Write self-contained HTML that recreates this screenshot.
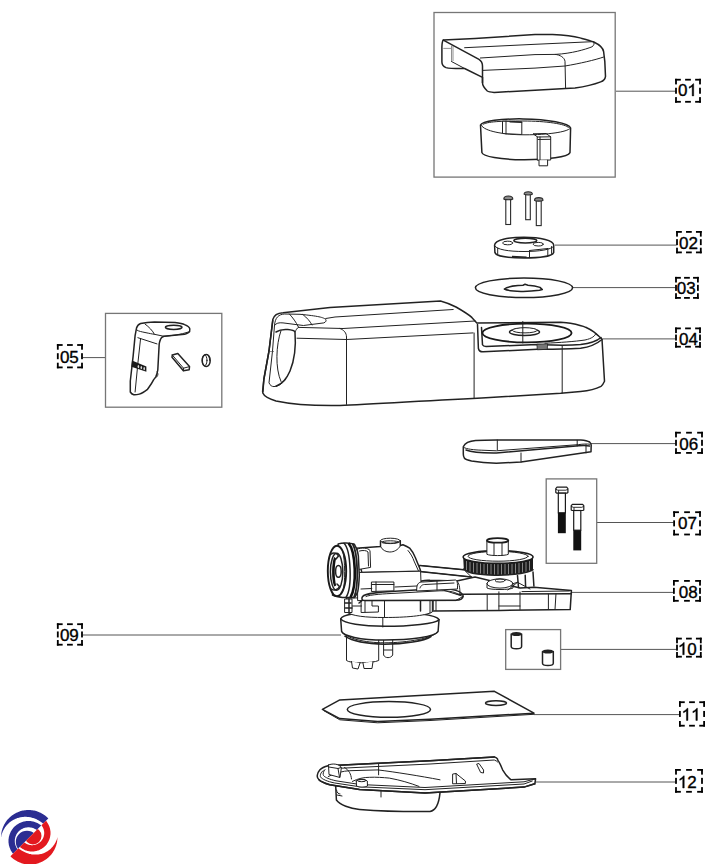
<!DOCTYPE html>
<html><head><meta charset="utf-8"><style>
html,body{margin:0;padding:0;background:#fff;}
svg{display:block;}
text{font-family:"Liberation Sans",sans-serif;font-size:17px;fill:#000;stroke:#000;stroke-width:0.35;}
.dg{fill:#000;stroke:#000;stroke-width:0.45;}
.ld{stroke:#555;stroke-width:1;}
.bx{fill:none;stroke:#767676;stroke-width:1.3;}
.k{fill:none;stroke:#222;stroke-width:1;stroke-linejoin:round;stroke-linecap:round;}
.kt{fill:none;stroke:#222;stroke-width:1.5;stroke-linejoin:round;stroke-linecap:round;}
.kf{fill:#fff;stroke:#222;stroke-width:1;stroke-linejoin:round;stroke-linecap:round;}
.kft{fill:#fff;stroke:#222;stroke-width:1.5;stroke-linejoin:round;stroke-linecap:round;}
.th{fill:none;stroke:#444;stroke-width:0.6;}
</style></head><body>
<svg width="727" height="864" viewBox="0 0 727 864">
<line x1="616" y1="91.2" x2="675.5" y2="91.2" class="ld"/><g fill="#000"><rect x="675.10" y="78.80" width="5.75" height="1.80"/><rect x="675.10" y="78.80" width="1.80" height="5.60"/><rect x="695.15" y="78.80" width="5.75" height="1.80"/><rect x="699.10" y="78.80" width="1.80" height="5.60"/><rect x="675.10" y="100.90" width="5.75" height="1.80"/><rect x="675.10" y="97.10" width="1.80" height="5.60"/><rect x="695.15" y="100.90" width="5.75" height="1.80"/><rect x="699.10" y="97.10" width="1.80" height="5.60"/><rect x="685.12" y="78.80" width="5.75" height="1.80"/><rect x="685.12" y="100.90" width="5.75" height="1.80"/><rect x="675.10" y="87.75" width="1.80" height="6.00"/><rect x="699.10" y="87.75" width="1.80" height="6.00"/></g><text x="677.90" y="95.9">0</text><path class="dg" d="M693.69,95.90 L692.19,95.90 L692.19,86.38 C691.82,86.72 691.35,87.06 690.75,87.40 C690.16,87.77 689.63,88.05 689.20,88.25 L689.20,86.82 C690.04,86.43 690.92,85.87 691.69,85.22 C692.45,84.56 693.00,84.00 693.12,83.73 L693.69,83.73 Z"/><line x1="555" y1="245.1" x2="676.5" y2="245.1" class="ld"/><g fill="#000"><rect x="676.10" y="231.00" width="5.75" height="1.80"/><rect x="676.10" y="231.00" width="1.80" height="5.60"/><rect x="695.95" y="231.00" width="5.75" height="1.80"/><rect x="699.90" y="231.00" width="1.80" height="5.60"/><rect x="676.10" y="251.50" width="5.75" height="1.80"/><rect x="676.10" y="247.70" width="1.80" height="5.60"/><rect x="695.95" y="251.50" width="5.75" height="1.80"/><rect x="699.90" y="247.70" width="1.80" height="5.60"/><rect x="686.03" y="231.00" width="5.75" height="1.80"/><rect x="686.03" y="251.50" width="5.75" height="1.80"/><rect x="676.10" y="239.15" width="1.80" height="6.00"/><rect x="699.90" y="239.15" width="1.80" height="6.00"/></g><text x="679.10" y="248.8">0</text><text x="688.55" y="248.8">2</text><line x1="573" y1="287.6" x2="675.5" y2="287.6" class="ld"/><g fill="#000"><rect x="675.10" y="276.90" width="5.75" height="1.80"/><rect x="675.10" y="276.90" width="1.80" height="5.60"/><rect x="693.05" y="276.90" width="5.75" height="1.80"/><rect x="697.00" y="276.90" width="1.80" height="5.60"/><rect x="675.10" y="297.00" width="5.75" height="1.80"/><rect x="675.10" y="293.20" width="1.80" height="5.60"/><rect x="693.05" y="297.00" width="5.75" height="1.80"/><rect x="697.00" y="293.20" width="1.80" height="5.60"/><rect x="684.08" y="276.90" width="5.75" height="1.80"/><rect x="684.08" y="297.00" width="5.75" height="1.80"/><rect x="675.10" y="284.85" width="1.80" height="6.00"/><rect x="697.00" y="284.85" width="1.80" height="6.00"/></g><text x="676.80" y="293.8">0</text><text x="686.25" y="293.8">3</text><line x1="602.5" y1="338.9" x2="675.5" y2="338.9" class="ld"/><g fill="#000"><rect x="675.10" y="327.50" width="5.75" height="1.80"/><rect x="675.10" y="327.50" width="1.80" height="5.60"/><rect x="695.15" y="327.50" width="5.75" height="1.80"/><rect x="699.10" y="327.50" width="1.80" height="5.60"/><rect x="675.10" y="345.80" width="5.75" height="1.80"/><rect x="675.10" y="342.00" width="1.80" height="5.60"/><rect x="695.15" y="345.80" width="5.75" height="1.80"/><rect x="699.10" y="342.00" width="1.80" height="5.60"/><rect x="685.12" y="327.50" width="5.75" height="1.80"/><rect x="685.12" y="345.80" width="5.75" height="1.80"/><rect x="675.10" y="334.55" width="1.80" height="6.00"/><rect x="699.10" y="334.55" width="1.80" height="6.00"/></g><text x="679.10" y="344.7">0</text><text x="688.55" y="344.7">4</text><line x1="82.5" y1="357.6" x2="105.3" y2="357.6" class="ld"/><g fill="#000"><rect x="56.90" y="344.10" width="5.75" height="1.80"/><rect x="56.90" y="344.10" width="1.80" height="5.60"/><rect x="77.15" y="344.10" width="5.75" height="1.80"/><rect x="81.10" y="344.10" width="1.80" height="5.60"/><rect x="56.90" y="366.50" width="5.75" height="1.80"/><rect x="56.90" y="362.70" width="1.80" height="5.60"/><rect x="77.15" y="366.50" width="5.75" height="1.80"/><rect x="81.10" y="362.70" width="1.80" height="5.60"/><rect x="67.03" y="344.10" width="5.75" height="1.80"/><rect x="67.03" y="366.50" width="5.75" height="1.80"/><rect x="56.90" y="353.20" width="1.80" height="6.00"/><rect x="81.10" y="353.20" width="1.80" height="6.00"/></g><text x="59.90" y="363">0</text><text x="69.35" y="363">5</text><line x1="591" y1="443.6" x2="675.5" y2="443.6" class="ld"/><g fill="#000"><rect x="675.10" y="431.80" width="5.75" height="1.80"/><rect x="675.10" y="431.80" width="1.80" height="5.60"/><rect x="697.15" y="431.80" width="5.75" height="1.80"/><rect x="701.10" y="431.80" width="1.80" height="5.60"/><rect x="675.10" y="452.00" width="5.75" height="1.80"/><rect x="675.10" y="448.20" width="1.80" height="5.60"/><rect x="697.15" y="452.00" width="5.75" height="1.80"/><rect x="701.10" y="448.20" width="1.80" height="5.60"/><rect x="686.12" y="431.80" width="5.75" height="1.80"/><rect x="686.12" y="452.00" width="5.75" height="1.80"/><rect x="675.10" y="439.80" width="1.80" height="6.00"/><rect x="701.10" y="439.80" width="1.80" height="6.00"/></g><text x="679.30" y="449.7">0</text><text x="688.75" y="449.7">6</text><line x1="597" y1="522.5" x2="673.5" y2="522.5" class="ld"/><g fill="#000"><rect x="673.20" y="511.30" width="5.75" height="1.80"/><rect x="673.20" y="511.30" width="1.80" height="5.60"/><rect x="695.15" y="511.30" width="5.75" height="1.80"/><rect x="699.10" y="511.30" width="1.80" height="5.60"/><rect x="673.20" y="533.60" width="5.75" height="1.80"/><rect x="673.20" y="529.80" width="1.80" height="5.60"/><rect x="695.15" y="533.60" width="5.75" height="1.80"/><rect x="699.10" y="529.80" width="1.80" height="5.60"/><rect x="684.17" y="511.30" width="5.75" height="1.80"/><rect x="684.17" y="533.60" width="5.75" height="1.80"/><rect x="673.20" y="520.35" width="1.80" height="6.00"/><rect x="699.10" y="520.35" width="1.80" height="6.00"/></g><text x="678.10" y="528.8">0</text><text x="687.55" y="528.8">7</text><line x1="569" y1="592.4" x2="673.5" y2="592.4" class="ld"/><g fill="#000"><rect x="673.00" y="580.00" width="5.75" height="1.80"/><rect x="673.00" y="580.00" width="1.80" height="5.60"/><rect x="695.15" y="580.00" width="5.75" height="1.80"/><rect x="699.10" y="580.00" width="1.80" height="5.60"/><rect x="673.00" y="599.90" width="5.75" height="1.80"/><rect x="673.00" y="596.10" width="1.80" height="5.60"/><rect x="695.15" y="599.90" width="5.75" height="1.80"/><rect x="699.10" y="596.10" width="1.80" height="5.60"/><rect x="684.08" y="580.00" width="5.75" height="1.80"/><rect x="684.08" y="599.90" width="5.75" height="1.80"/><rect x="673.00" y="587.85" width="1.80" height="6.00"/><rect x="699.10" y="587.85" width="1.80" height="6.00"/></g><text x="678.70" y="598">0</text><text x="688.15" y="598">8</text><line x1="82.5" y1="635" x2="341" y2="635" class="ld"/><g fill="#000"><rect x="56.90" y="623.30" width="5.75" height="1.80"/><rect x="56.90" y="623.30" width="1.80" height="5.60"/><rect x="77.15" y="623.30" width="5.75" height="1.80"/><rect x="81.10" y="623.30" width="1.80" height="5.60"/><rect x="56.90" y="643.80" width="5.75" height="1.80"/><rect x="56.90" y="640.00" width="1.80" height="5.60"/><rect x="77.15" y="643.80" width="5.75" height="1.80"/><rect x="81.10" y="640.00" width="1.80" height="5.60"/><rect x="67.03" y="623.30" width="5.75" height="1.80"/><rect x="67.03" y="643.80" width="5.75" height="1.80"/><rect x="56.90" y="631.45" width="1.80" height="6.00"/><rect x="81.10" y="631.45" width="1.80" height="6.00"/></g><text x="59.90" y="640.9">0</text><text x="69.35" y="640.9">9</text><line x1="561" y1="649.4" x2="676.5" y2="649.4" class="ld"/><g fill="#000"><rect x="676.10" y="637.70" width="5.75" height="1.80"/><rect x="676.10" y="637.70" width="1.80" height="5.60"/><rect x="695.95" y="637.70" width="5.75" height="1.80"/><rect x="699.90" y="637.70" width="1.80" height="5.60"/><rect x="676.10" y="655.80" width="5.75" height="1.80"/><rect x="676.10" y="652.00" width="1.80" height="5.60"/><rect x="695.95" y="655.80" width="5.75" height="1.80"/><rect x="699.90" y="652.00" width="1.80" height="5.60"/><rect x="686.03" y="637.70" width="5.75" height="1.80"/><rect x="686.03" y="655.80" width="5.75" height="1.80"/><rect x="676.10" y="644.65" width="1.80" height="6.00"/><rect x="699.90" y="644.65" width="1.80" height="6.00"/></g><path class="dg" d="M684.23,654.70 L682.74,654.70 L682.74,645.18 C682.37,645.52 681.89,645.86 681.30,646.20 C680.70,646.57 680.18,646.85 679.75,647.05 L679.75,645.62 C680.59,645.23 681.47,644.67 682.24,644.02 C683.00,643.36 683.54,642.80 683.66,642.53 L684.23,642.53 Z"/><text x="687.35" y="654.7">0</text><line x1="534" y1="714.6" x2="679.5" y2="714.6" class="ld"/><g fill="#000"><rect x="679.00" y="701.30" width="5.75" height="1.80"/><rect x="679.00" y="701.30" width="1.80" height="5.60"/><rect x="699.25" y="701.30" width="5.75" height="1.80"/><rect x="703.20" y="701.30" width="1.80" height="5.60"/><rect x="679.00" y="724.80" width="5.75" height="1.80"/><rect x="679.00" y="721.00" width="1.80" height="5.60"/><rect x="699.25" y="724.80" width="5.75" height="1.80"/><rect x="703.20" y="721.00" width="1.80" height="5.60"/><rect x="689.12" y="701.30" width="5.75" height="1.80"/><rect x="689.12" y="724.80" width="5.75" height="1.80"/><rect x="679.00" y="710.95" width="1.80" height="6.00"/><rect x="703.20" y="710.95" width="1.80" height="6.00"/></g><path class="dg" d="M687.93,720.40 L686.44,720.40 L686.44,710.88 C686.07,711.22 685.60,711.56 685.00,711.90 C684.40,712.27 683.88,712.55 683.45,712.75 L683.45,711.32 C684.29,710.93 685.17,710.37 685.94,709.72 C686.70,709.06 687.24,708.50 687.36,708.23 L687.93,708.23 Z"/><path class="dg" d="M697.39,720.40 L695.89,720.40 L695.89,710.88 C695.52,711.22 695.05,711.56 694.45,711.90 C693.86,712.27 693.33,712.55 692.90,712.75 L692.90,711.32 C693.74,710.93 694.62,710.37 695.39,709.72 C696.15,709.06 696.70,708.50 696.82,708.23 L697.39,708.23 Z"/><line x1="535" y1="782" x2="675.5" y2="782" class="ld"/><g fill="#000"><rect x="675.10" y="769.00" width="5.75" height="1.80"/><rect x="675.10" y="769.00" width="1.80" height="5.60"/><rect x="697.15" y="769.00" width="5.75" height="1.80"/><rect x="701.10" y="769.00" width="1.80" height="5.60"/><rect x="675.10" y="790.90" width="5.75" height="1.80"/><rect x="675.10" y="787.10" width="1.80" height="5.60"/><rect x="697.15" y="790.90" width="5.75" height="1.80"/><rect x="701.10" y="787.10" width="1.80" height="5.60"/><rect x="686.12" y="769.00" width="5.75" height="1.80"/><rect x="686.12" y="790.90" width="5.75" height="1.80"/><rect x="675.10" y="777.85" width="1.80" height="6.00"/><rect x="701.10" y="777.85" width="1.80" height="6.00"/></g><path class="dg" d="M684.23,788.00 L682.74,788.00 L682.74,778.48 C682.37,778.82 681.89,779.16 681.30,779.50 C680.70,779.87 680.18,780.15 679.75,780.35 L679.75,778.92 C680.59,778.53 681.47,777.97 682.24,777.32 C683.00,776.66 683.54,776.10 683.66,775.83 L684.23,775.83 Z"/><text x="687.35" y="788">2</text>
<!-- boxes -->
<rect class="bx" x="434" y="12.5" width="181.2" height="164.6"/>
<rect class="bx" x="105.5" y="313.4" width="116.3" height="93.8"/>
<rect class="bx" x="546.2" y="478.9" width="50.5" height="84.4"/>
<rect class="bx" x="505.7" y="629.6" width="54.9" height="39.8"/>
<!-- 03 disc -->
<g id="p03">
<ellipse class="kt" cx="524" cy="287.8" rx="48.6" ry="9.8"/>
<path class="kt" d="M504.3,289 C507,287 512,286 518,285.6 L523,285.2 L525,284.3 L528,285.2 C533,285.5 537,286.3 540,287.4 L542.3,289.6 L539.5,290.3 C533,291.2 527,291.5 521,291.4 C513,291.2 507,290.4 504.3,289 Z"/>
</g>
<!-- 11 plate -->
<g id="p11">
<path class="kt" d="M322.4,709.4 L339.8,699.9 L494.4,691.3 L534,713.2 L430,719.3 L377.7,721.6 L339.8,718.6 Z"/>
<path class="k" d="M324,710.8 L339.8,719.8 L377.7,722.8 L430,720.5 L534,714.3"/>
<ellipse class="kt" cx="388.9" cy="709.4" rx="41.6" ry="7.8"/>
<ellipse class="kt" cx="496" cy="703.1" rx="10.5" ry="2.4"/>
</g>
<!-- 10 cylinders -->
<g id="p10">
<path class="kft" d="M511.2,634 L511.2,646.5 C511.2,649.5 521.6,649.5 521.6,646.5 L521.6,634"/>
<ellipse cx="516.4" cy="634" rx="5.2" ry="2" fill="#222"/>
<path class="kft" d="M542.5,651.5 L542.5,663.3 C542.5,666.3 553.3,666.3 553.3,663.3 L553.3,651.5"/>
<ellipse cx="547.9" cy="651.5" rx="5.4" ry="2.1" fill="#222"/>
</g>
<!-- 07 bolts -->
<g id="p07">
<path d="M555.8,488.59999999999997 L557.0,487.2 L566.6999999999999,487.2 L567.9,488.59999999999997 L567.9,492.59999999999997 L566.9,493.2 L556.8,493.2 L555.8,492.59999999999997 Z" fill="#fff" stroke="#1a1a1a" stroke-width="1.2" stroke-linejoin="round"/>
<path d="M555.8,489.2 L557.8,490.2 L565.9,490.2 L567.9,489.2 M558.5999999999999,490.2 V493.2" fill="none" stroke="#1a1a1a" stroke-width="0.9"/>
<rect x="558.3" y="493.2" width="7.100000000000023" height="19.599999999999966" fill="#fff" stroke="#1a1a1a" stroke-width="1.2"/>
<rect x="557.9" y="512.8" width="7.900000000000023" height="20.40000000000009" fill="#111"/>
<path d="M571.2,505.7 L572.4000000000001,504.3 L582.5999999999999,504.3 L583.8,505.7 L583.8,509.9 L582.8,510.5 L572.2,510.5 L571.2,509.9 Z" fill="#fff" stroke="#1a1a1a" stroke-width="1.2" stroke-linejoin="round"/>
<path d="M571.2,506.3 L573.2,507.3 L581.8,507.3 L583.8,506.3 M574.0,507.3 V510.5" fill="none" stroke="#1a1a1a" stroke-width="0.9"/>
<rect x="573.7" y="510.5" width="7.099999999999909" height="19.700000000000045" fill="#fff" stroke="#1a1a1a" stroke-width="1.2"/>
<rect x="573.3000000000001" y="530.2" width="7.899999999999909" height="20.199999999999932" fill="#111"/>
</g>


<!-- screws above 02 -->
<g id="screws">
<rect x="505.8" y="199.1" width="4.800000000000011" height="25.400000000000006" fill="#fff" stroke="#2a2a2a" stroke-width="1.1"/>
<path d="M503.8,199.0 C503.8,195.0 512.8,195.0 512.8,199.0 C511.79999999999995,200.0 504.8,200.0 503.8,199.0 Z" fill="#8c8c8c" stroke="#2a2a2a" stroke-width="1.1"/>
<rect x="525.7" y="194.3" width="4.599999999999909" height="25.399999999999977" fill="#fff" stroke="#2a2a2a" stroke-width="1.1"/>
<path d="M524.1,194.20000000000002 C524.1,190.89999999999998 532.4,190.89999999999998 532.4,194.20000000000002 C531.4,195.20000000000002 525.1,195.20000000000002 524.1,194.20000000000002 Z" fill="#8c8c8c" stroke="#2a2a2a" stroke-width="1.1"/>
<rect x="536.3" y="200.5" width="4.900000000000091" height="25.099999999999994" fill="#fff" stroke="#2a2a2a" stroke-width="1.1"/>
<path d="M534.5,200.4 C534.5,196.7 543,196.7 543,200.4 C542,201.4 535.5,201.4 534.5,200.4 Z" fill="#8c8c8c" stroke="#2a2a2a" stroke-width="1.1"/>
</g>
<!-- 01 cover -->
<g id="p01">
<path class="kft" d="M443.3,40.1 L475,38.5 L535,34.6 L552.5,34.4 C565,35 575,36.5 580,37.9 C586,39.5 590,40.5 593.8,42 C599,44.5 603,48 603.6,51.5 L604.8,61.3 L605.5,76.4 C605,80 602.5,81.3 600.7,81.9 C594,84.5 586,86.5 575,88 L565.6,88.6 L535,90.2 L494.1,92.4 C490,92.2 488,91.5 487.3,91 C483,87 482.5,84 482.5,82.8 L482.5,77.3 L464.6,68.5 C455,68.6 449,68.4 446,67.6 C443,66.5 441.9,64 441.9,62.1 L441.9,47 C442,43 442.5,41 443.3,40.1 Z"/>
<path class="kt" d="M443.3,40.1 L479,59.4 C481.5,61 482.5,64 482.5,66.3 L482.5,82.8"/>
<path class="k" d="M464.6,47.7 L535,44.3 L592.4,41.7"/>
<path class="k" d="M480.4,58 L535,54.6 L555.3,54.4 C572,53.5 585,49.5 592,46.8 C594,45.5 594.5,43.5 593.8,42"/>
<path class="k" d="M482.5,70.4 L535,68.1 L565,66 C580,63.5 595,60 603.4,57.1"/>
<path class="k" d="M555.3,54.4 C560,54.8 564.5,57.5 565,61.3 L565.6,88"/>
<path class="k" d="M451.5,61.5 L464.6,68.5"/>
<path class="th" d="M451.5,45.6 V62 M443.3,48.4 H451 M453,46 V61"/>
</g>
<!-- 01 ring -->
<g id="p01r">
<path class="kft" d="M480.5,125.1 C482,121 502,118.6 523.1,118.9 C548,119.2 569,123 570.6,127.9 L570,152.6 C568,157 548,159.8 523.1,159.7 C500,159.5 483,156.5 481.9,152.6 Z"/>
<path class="k" d="M481.5,125.5 C484,131 503,134.8 525,134.8 C548,134.8 567,132 570,128.5"/>
<path class="k" d="M483,124.5 C486,121.5 502,121 523,121 C546,121 566,124 568.5,127.5"/>
<path class="kf" d="M502.5,121.5 L502.5,133.5 L521.8,134.5 L521.8,122.2 Z"/>
<path class="k" d="M506,121 V134 M510,122 L521.8,122.5"/>
<path class="kf" d="M537.6,137 L550.7,136.8 L550.7,160 L537.6,160.2 Z"/>
<path class="k" d="M540,137 V160 M538,139.5 L550.5,139.3 M537.6,137 L533,133.8 L546,133.5 L550.7,136.8"/>
<path class="kf" d="M539,160.2 L539,165.8 L547.6,165.8 L547.6,160.2"/>

</g>
<!-- 02 ring -->
<g id="p02">
<path class="kft" d="M494.6,245 C495,240 508,237.2 524,237.2 C541,237.2 553.5,240.5 553.7,245 L553.7,252.5 C553,256 540,258 524,258 C508,258 495.5,256 494.9,252.5 Z"/>
<path class="k" d="M494.8,246 C497,249.5 508,251.5 524,251.5 C540,251.5 551,249.5 553.5,246.5"/>
<ellipse class="kt" cx="525.3" cy="240.6" rx="11.5" ry="2.4"/>
<ellipse class="k" cx="507.6" cy="243" rx="5" ry="1.8"/>
<ellipse class="k" cx="538.2" cy="244.2" rx="5" ry="1.8"/>
<path class="k" d="M497.7,248 V254.5 M529.5,250.5 V257.6 M547.8,248.5 V255.5 M551.6,246.5 V253.5 M529.5,250.5 L547.8,248.5"/>
<path d="M512,255.8 L526.6,256.4 L526.6,258 L512,257.5 Z" fill="#222"/>
</g>
<!-- 04 body -->
<g id="p04">
<path class="kft" d="M272.8,319.5 C274,315 278,313 283,312.7 L330,307.6 L440.5,301 C448,303 452,305 456,307 C463,311 468,314 471.8,317.4 L476.8,323 L508,322.7 L560.7,322.2 C565,322.5 568,322.8 570.4,323.2 C577,324.5 582,325.5 585.7,327.3 C589,328.8 591.5,330.3 593.8,331.9 C596,333.5 597,334.5 597.9,335.4 C599.5,336.8 601,338 602,339.2 L604.5,381.3 C603.5,383.5 602.5,385.5 601,386.4 C595,389.5 588,390.8 580.6,391.5 L560.7,393.2 L490,397.5 C420,401 370,404.5 340,405.5 C310,406 290,404 276,401 C268,398.5 264,396 262.8,393 L263.9,379 L269,351 Z"/>
<path class="k" d="M325.7,318.5 L335,317 L453.2,309.5"/>
<path class="k" d="M298.3,327.4 L343,328.5 L475.2,321"/>
<path class="k" d="M297,338.2 L346.5,339.5 L473,332.9"/>
<path class="k" d="M340,328.5 C344,330 346.5,333 346.5,337 L346.5,404.4"/>
<path class="k" d="M474.1,333 L474.1,397.8"/>
<path class="k" d="M562.2,345.5 L562.2,393"/>
<!-- deck channel -->
<path class="kt" d="M477.5,324.5 L478.4,348.5 C479,351 480.5,352 483.2,351.8 L537.7,349.3 C550,349.5 560,349.4 580.6,348.2 C590,347 596,344.6 602,339.5"/>
<path class="kt" d="M481.5,327.5 L482.5,344.8 C483,346 484,346.5 486,346.5 L537,344.6 C550,345 565,345.8 580.6,344.6 C590,343.5 597,341 601,337.5"/>
<path class="k" d="M545,343.2 C560,342.6 575,341.5 585,340 C592,338.5 595,336 595.9,333.5"/>
<ellipse cx="527" cy="333" rx="44.6" ry="9.4" fill="#fff" stroke="#1a1a1a" stroke-width="1.8"/>
<ellipse class="kt" cx="524.5" cy="332" rx="15" ry="3.6"/>
<ellipse class="kf" cx="525" cy="330.3" rx="12.5" ry="2.6"/>
<path class="k" d="M522.8,321.5 V343"/>
<path d="M536.9,344.2 L547.6,343.8 L547.3,349.3 L537.3,349.8 Z" fill="#777" stroke="#222" stroke-width="0.8"/>
<!-- left end -->
<path class="kt" d="M272.8,320.4 L269,351 L263.9,379 L262.6,391.7"/>
<path class="k" d="M274.5,325.5 L272.5,351 L269,382.8 C270,385.5 272,386.6 274,386.6 C279,386 283,383 286,379"/>
<path class="kt" d="M276,332 C283,327.5 294,330 295,332 C296,345 294.5,360 290,371 C287,378 282,384 276,386.2"/>
<path class="k" d="M281,330.6 C276,345 275,368 281,381.5"/>
<path class="k" d="M274.5,325.5 C276,323 279,322.5 283,322.9 L303.4,325.5 L323.8,322.9 C326,322 326.5,320.5 325.7,319.5 C324,317.5 318,316 300,314.3 L284.3,314 C279,314.5 275,317 274.5,325.5"/>
<path class="k" d="M289.4,314 C293,318 296,322 298.3,326.8 M303,314.6 C307,318 310,321 312,325"/>
<path class="k" d="M295,332 C296,330 297,328 298.3,327.4"/>
<path class="th" d="M269.5,351.5 L274,351.5"/>
</g>
<!-- 05 hook -->
<g id="p05">
<path class="kft" d="M136.5,328.1 C137.5,325 139,324 140.6,323.5 C146,322.2 150,321.9 154.4,321.9 L175,322.6 C180,323.2 183,323.8 184.6,324.6 C187.5,325.8 189.5,327 189.8,328.8 C190,331 189.5,332 188.8,332.4 C187,333.6 186,334 184.6,334.3 L164,336.3 C162,337 161,338 160.6,339.1 C159.8,341 159.4,342.5 159.2,343.9 L157.8,370 C157.3,373 156.6,375 155.8,376.9 L153.7,379.6 C151.5,384 149.5,386.5 147.5,389.3 C144,392 142,393.3 139.3,394.1 C136.5,394.9 135,394.9 133.8,394.8 C132,394.2 131,393.2 130.3,392 L130.3,381 L133.1,356.3 L135.1,335.6 Z"/>
<ellipse class="kt" cx="173.7" cy="327.3" rx="8.3" ry="2.1"/>
<path class="k" d="M136.8,330 C139,331.5 142,331.8 145,332.5 C150,333.5 152,334 154.4,334.3 L164,336.3"/>
<path class="k" d="M137.9,337.7 L157,343.9"/>
<path class="k" d="M140.6,338.4 L138,362 L135.1,392"/>
<path class="k" d="M145,324 C149,327 153,331 154.4,334.3"/>
<path class="k" d="M164,336.3 C172,335.6 180,334.8 188.5,332"/>
<path d="M132,360.4 L146.4,366.6 L146.4,371.8 L131.4,366.8 Z" fill="#1a1a1a"/>
<ellipse cx="144.2" cy="368.6" rx="0.8" ry="1.6" fill="#ddd"/>
<ellipse cx="141.3" cy="367.6" rx="0.8" ry="1.6" fill="#ddd"/>
<ellipse cx="138.4" cy="366.6" rx="0.8" ry="1.6" fill="#ddd"/>
<path class="k" d="M157,372 C158.5,373.5 158.3,376 156,377.5"/>
<!-- small rect -->
<path class="kft" d="M172.3,355 L177.8,353.6 L189.5,366.6 L189.2,369.8 L183.4,370.8 L172,357.2 Z"/>
<path class="k" d="M172.3,355 L183.5,368.2 L189.5,366.6 M183.5,368.2 L183.4,370.8"/>
<!-- ring -->
<ellipse class="kft" cx="206.2" cy="360.5" rx="4" ry="6.1"/>
<ellipse class="k" cx="204.6" cy="360.3" rx="2.4" ry="5.4"/>
<path class="k" d="M207.5,354.4 C209,356 209.6,358 209.6,360.4"/>
</g>
<!-- 06 belt -->
<g id="p06">
<path class="kft" d="M463.3,446.7 C465,443 470,441 475.6,440.5 C482,440 490,439.9 496.3,439.9 L580.8,439.9 C585,440.2 588,441 589.6,442 C590.8,443 591.2,444 591.2,445 L591,451.8 L521,462.1 L496.3,463.2 C485,463 477,462 471.5,461.1 C467,460 465,459 464.3,458 C463.5,456.5 463.3,455 463.3,453.9 Z"/>
<path class="k" d="M464,447.5 C466,449 474,450 481.8,450.2 L496.3,450.8 L578.8,444.6 C583,444 587,443.8 590,444.2"/>
<path class="kt" d="M466,450 C472,452.5 485,453 496.3,452.9 L578.8,445.8 C583,445.5 587,445.5 589.5,446"/>
<path class="k" d="M497.3,440 V449.8 M521,453 V462 M586,444.6 V452.9 M577.2,440.3 V446"/>
</g>
<!-- 08 plate + gear -->
<g id="p08">
<path class="kft" d="M417,583.4 C420,581 425,580 430,580.3 L456.8,581 L475,577 L520,588 L534,587.3 L571.4,590.4 L570.2,609.6 L500,610.4 L433.4,611 L419,610 Z"/>
<path class="kt" d="M419.4,594.5 L571.4,593.8"/>
<path class="k" d="M498.9,591.8 V609.5 M520,592 V609.5 M548.4,594 V609.5 M556,593.5 L555,609.5 M487.2,594.5 V610 M456.8,581 C459,583 460,586 460,595 M436,596 V610.5"/>
<path class="k" d="M498.9,606 H520 M522,591.6 L569.3,591"/>
<path class="kt" d="M517.5,575.5 L518.5,587.5 M525.2,575.3 L525.6,586.5 M533,572 L533.9,586"/>
<path class="k" d="M517.5,582.3 L530,589 M507.9,590 L517.5,582.3 M505,586 L517.5,582.3"/>
<ellipse class="kf" cx="500" cy="583.5" rx="13" ry="4.6"/>
<path class="k" d="M487,583.5 V588 C490,590 510,590 513,588 V583.5"/>
<ellipse class="k" cx="500" cy="580.5" rx="5" ry="1.6"/>
<!-- gear -->
<path d="M463.2,557.5 L463.8,569 C468,574 485,575.5 498,575.2 C515,575 530,572.5 533,569.7 L533,556.5 Z" fill="#1c1c1c"/>
<g stroke="#9a9a9a" stroke-width="0.85">
<path d="M466.5,561 V570.5 M470,562 V572 M473.5,562.5 V572.8 M477,563 V573.5 M480.5,563.3 V574 M484,563.6 V574.3 M487.5,563.8 V574.6 M491,564 V574.8 M494.5,564 V575 M498,564 V575 M501.5,564 V575 M505,564 V574.9 M508.5,563.8 V574.7 M512,563.6 V574.4 M515.5,563.3 V574 M519,563 V573.5 M522.5,562.5 V572.8 M526,562 V572 M529.5,561 V570.8"/>
</g>
<path class="kt" d="M463.8,569 C468,574 485,575.5 498,575.2 C515,575 530,572.5 533,569.7"/>
<ellipse cx="498.1" cy="557" rx="35" ry="6.4" fill="#fff" stroke="#1c1c1c" stroke-width="1.6"/>
<ellipse class="k" cx="498.1" cy="556.3" rx="30" ry="4.9"/>
<!-- shaft -->
<path class="kf" d="M486.9,541 V554.3 C490,556 505,556 508.3,554.3 V541 Z"/>
<ellipse cx="497.6" cy="540.4" rx="10.7" ry="2.3" fill="#fff" stroke="#1c1c1c" stroke-width="1.8"/>
<path class="k" d="M494,542.5 V555.5 M502,542.5 V555.5"/>
<!-- strap -->
<path class="kf" d="M419.8,565.4 L464,569.8 L471.5,577 L419.8,571.5 Z"/>
<path class="kt" d="M419.8,565.4 L464,569.8 M419.8,571.5 L471.5,577"/>
</g>
<!-- 09 base -->
<g id="p09">
<!-- motor can -->
<path class="kf" d="M346.5,635 L346.5,660.5 C350,663.5 372,663.5 378.7,660.5 L378.7,635"/>
<path class="kf" d="M383.6,640 L383.6,655 C385,658.5 391,658.5 392.7,655 L392.7,640"/>
<path class="k" d="M384,650 H392.3"/>
<path class="kf" d="M351.5,661.5 L352.5,668 L358,669 L360,663 M363,663 L364,668.5 L372,668.5 L373,661.5"/>
<!-- ring -->
<path class="kft" d="M340.7,618.9 C342,614.5 360,612 384.5,612 C412,612 437,615 439,619.7 L438.1,631.3 C436,637 410,640 384.5,640 C360,640 343,636 341.6,631.3 Z"/>
<path class="kt" d="M340.7,618.9 C344,623.5 362,626.3 384.5,626.3 C410,626.3 436,623.5 439,619.7"/>
<path class="k" d="M382.8,616.4 V627"/>
<path class="k" d="M341.8,632 C346,638 364,642.8 384.5,642.8 C408,642.8 433,638 437.5,632"/>
<path class="kt" d="M344.9,636.2 C352,641 368,644 384.5,644.2 C405,644.2 424,641 431,636.5"/>
<!-- gearbox cylinder -->
<path class="kf" d="M346.5,598.5 L346.5,612 C352,616 365,617.5 384.5,617.5 C405,617.5 425,616 432.3,612 L432.3,597 Z"/>
<path class="k" d="M384.5,598 V617.5 M350,603 V613 M430,600 V613"/>
<path class="kf" d="M361.5,600 L372,600 L372,606 L378.4,606 L378.4,612 L361.5,612.5 Z"/>
<path class="k" d="M365,600 V612 M352,606 L361.5,606"/>
<path class="kf" d="M345,599 L352,599 L352,612.5 L345,612.5 Z"/>
<path class="kt" d="M345,603 H351 M345.5,608 H352 M349,599 V612"/>
<path class="kt" d="M420.5,599 V611 M433,598 V610"/>
</g>
<!-- motor housing -->
<g id="p09m">
<path class="kft" d="M356,548.2 L380.5,546.5 L380.5,541 L400.3,541 L400.3,545.5 L403,544.8 C406,546 408,547 409.6,548.1 C412,551 414,554 415.1,557 L420,569 L420.6,571.2 L361.8,572.4 Z"/>
<path class="k" d="M380.5,546.5 C382,550 386,552 389.8,552 C394,552 398,550 400.3,545.9"/>
<path class="k" d="M408,550.5 C411,554 413,558 414,561 L418.5,571"/>
<ellipse class="kf" cx="390.4" cy="540.7" rx="9.9" ry="2.5"/>
<ellipse class="k" cx="390.4" cy="542.2" rx="8.5" ry="1.4"/>
<path class="kf" d="M357.4,549 C362,547.5 368,547.8 370,550.5 L370.6,567.4 L358,569.6 Z"/>
<path class="k" d="M359.5,551 C363,550 367,550.5 368,552 L368.5,566"/>
<!-- platform left -->
<path class="kf" d="M358,572.5 L420.6,571.2 L421,583 L463.2,596.4 L455.5,600.6 L358,600.6 Z"/>
<path class="kt" d="M362,598 C362,594 372,592.5 395,591.2 L440,588.6 C452,588 462.5,591.5 463.2,596 C463,599 459,600.3 455.5,600.3 L365,600.5 C362.5,600.3 361.5,599.5 362,598 Z"/>
<path class="k" d="M366,596.5 C370,594.5 385,593.8 395,593.3 L440,590.8 C450,590.5 457,592.5 459,595"/>
<path class="kf" d="M371.8,582 L393.9,582 L393.9,590.8 L371.8,591.5 Z"/>
<path class="k" d="M371.8,584.5 L393.9,584.5 M376,582 V591.3"/>
<path class="kf" d="M417,586 C418,582.5 420,582 422.8,582 L455.5,580 C457,580.5 457.5,582 457.5,585.8 L457.5,589 L417,591 Z"/>
<path class="k" d="M420,588 C421,585 423,584.5 425,584.5 L454,583 M437,581 V590"/>
<path class="k" d="M361,589 L371.8,588.5 M395,587 L417,586"/>
<path class="kt" d="M359,603 L362,600.5"/>
</g>
<!-- pulley -->
<g id="pulley">
<path class="kft" d="M338.2,543.9 C342,542.6 350,542.5 354.4,544.3 L355.2,545.9 C357.5,550 358.5,555 358.5,559.3 L359.3,575.5 C359,583 358.5,588 357.7,591.7 C356.5,594.5 355.5,596.5 354.4,597.4 L342.3,597.4 C338,596.8 334.5,596 332.5,595 Z"/>
<path class="kt" d="M344,543.3 C351,550 352.5,588 346,597.4"/>
<path d="M348.5,543 C356,552 357,586 350.5,597.4" fill="none" stroke="#111" stroke-width="2.6"/>
<path d="M352.5,543.5 C358,553 359,586 354,597.4" fill="none" stroke="#222" stroke-width="1.8"/>
<ellipse cx="337" cy="571" rx="9.2" ry="25.3" fill="#fff" stroke="#1a1a1a" stroke-width="1.9"/>
<path class="k" d="M343,552 C345,560 345.5,583 343,591"/>
<ellipse class="kt" cx="336.6" cy="571.8" rx="6.2" ry="18.5"/>
<path d="M334.2,557 C331.5,563 331.3,580 334.2,586.5 L336.2,585.5 C334.3,579 334.3,564 336.2,558.5 Z" fill="#111"/>
<ellipse class="kt" cx="338.4" cy="571.4" rx="2.8" ry="5.8"/>
<path class="kt" d="M331.5,554 C333.5,552 337,553 338.5,556 L336,559 M331.5,589 C334,591 338,590 339.5,586.5 L337,584"/>
</g>
<!-- 12 tray -->
<g id="p12">
<!-- bowl -->
<path class="kft" d="M335.6,783.8 L336.4,800 C340,805 350,808.5 359.5,809.4 C380,811 405,811.8 430,811.5 C436,810.5 439,803 440,792.9 L440,788 L335.6,783.8 Z"/>
<path class="k" d="M336.5,790 C337,793 338.5,794 340,794 M337,795 L342,796"/>
<path class="k" d="M381,791 V797"/>
<!-- tray top surface -->
<path class="kft" d="M328.2,765.7 L430,760.7 L494.3,756.9 C497,758 498,759 497.6,759.9 C500,763 501,766 502.6,769.8 C505,774 508,777.5 510.8,779.7 L535.6,778.8 L534.8,783.8 L524,787.1 L425,792.9 L359.5,789.6 L329.8,784.7 C324,783 320.5,781.5 319,779.7 C317,778 317,776.5 317.4,774.8 C318,772 319,771 320,769.8 C322,767.5 325,766.5 328.2,765.7 Z"/>
<path class="kt" d="M328.2,765.7 L430,760.7 L494.3,756.9"/>
<path class="kt" d="M319,779.7 C320.5,781.5 324,783 329.8,784.7 L359.5,789.6 L425,792.9 L524,787.1 L534.8,783.8"/>
<path class="k" d="M323.2,770.6 C320.5,772.5 320,775.5 320.5,777 C322,779 327,781.5 334.8,783 L360,786.8 L425,789.7 L524,784 L532.3,781"/>
<path class="k" d="M325,769.5 C323,771.5 322.8,774.5 323.5,775.5 C325,777.5 330,779.5 336,780.8 L360,784.5 L425,787.5 L524,781.8 L535.6,778.8"/>
<path class="k" d="M341.4,768.2 L430,764 L494.3,760 C496,760.5 497,761.5 497.6,762"/>
<path class="k" d="M378.6,764 V774.8 M378.6,770 C395,772 420,776 440,779.8"/>
<path class="k" d="M352.4,781.4 C358,778.5 364,777.3 369.5,777.3 C376,777 383,777.5 389.3,778.1 C400,780 410,783 419,786.4"/>
<path class="k" d="M344.5,767.5 C349,770 351,774 351.5,779"/>
<path class="k" d="M328.3,776.5 C335,773 343,771 349.7,770.7 L378.6,769.9"/>
<!-- posts -->
<path class="kf" d="M328.5,765 L329,774.5 L340,777.5 L341.4,767.5 C339,764 333,763 328.5,765 Z"/>
<path class="k" d="M328.8,767 L338,768.5 L341,767.5 M338,768.5 L339.5,777"/>
<path class="kf" d="M356.3,781 L356.5,786 C359,787.5 365,787.5 367.5,786 L367.3,781 C365,779 359,779 356.3,781 Z"/>
<ellipse class="k" cx="361.8" cy="780.5" rx="4.5" ry="1.2"/>
<!-- tabs -->
<path class="kf" d="M453,774 L456,773.5 L465.4,781 L465.4,783.5 L453,783.8 Z"/>
<path class="k" d="M456,773.5 L456.5,783.5"/>
<path class="kf" d="M477,764 L479,763.5 L483.6,770 L483.5,773 L481,772.5 Z"/>
</g>
<!-- logo -->
<g id="logo">
<defs>
<clipPath id="cb"><path d="M-20,776.7 L90,776.7 L-20,886.7 Z"/></clipPath>
<clipPath id="cr"><path d="M90,776.7 L90,900 L-20,900 L-20,886.7 Z"/></clipPath>
</defs>
<path clip-path="url(#cb)" fill="#2b2d92" d="M56.0,837.5 L56.0,838.5 L55.9,839.4 L55.8,840.4 L55.7,841.3 L55.6,842.3 L55.4,843.2 L55.2,844.2 L54.9,845.1 L54.7,846.0 L54.3,846.9 L54.0,847.8 L53.6,848.7 L53.2,849.6 L52.8,850.4 L52.3,851.2 L51.8,852.1 L51.3,852.9 L50.7,853.7 L50.2,854.4 L49.6,855.2 L48.9,855.9 L48.3,856.6 L47.6,857.3 L46.9,857.9 L46.2,858.6 L45.4,859.2 L44.7,859.7 L43.9,860.3 L43.1,860.8 L42.2,861.3 L41.4,861.8 L40.6,862.2 L39.7,862.6 L38.8,863.0 L37.9,863.3 L37.0,863.7 L36.1,863.9 L35.2,864.2 L34.2,864.4 L33.3,864.6 L32.3,864.7 L31.4,864.8 L30.4,864.9 L29.5,865.0 L28.5,865.0 L27.5,865.0 L26.6,864.9 L25.6,864.8 L24.7,864.7 L23.7,864.6 L22.8,864.4 L21.8,864.2 L20.9,863.9 L20.0,863.7 L19.1,863.3 L18.2,863.0 L17.3,862.6 L16.4,862.2 L15.6,861.8 L14.8,861.3 L13.9,860.8 L13.1,860.3 L12.3,859.7 L11.6,859.2 L10.8,858.6 L10.1,857.9 L9.4,857.3 L8.7,856.6 L8.1,855.9 L7.4,855.2 L6.8,854.4 L6.3,853.7 L5.7,852.9 L5.2,852.1 L4.7,851.2 L4.2,850.4 L3.8,849.6 L3.4,848.7 L3.0,847.8 L2.7,846.9 L2.3,846.0 L2.1,845.1 L1.8,844.2 L1.6,843.2 L1.4,842.3 L1.3,841.3 L1.2,840.4 L1.1,839.4 L1.0,838.5 L1.0,837.5 L1.0,836.5 L1.1,835.6 L1.2,834.6 L1.3,833.7 L1.4,832.7 L1.6,831.8 L1.8,830.8 L2.1,829.9 L2.3,829.0 L2.7,828.1 L3.0,827.2 L3.4,826.3 L3.8,825.4 L4.2,824.6 L4.7,823.8 L5.2,822.9 L5.7,822.1 L6.3,821.3 L6.8,820.6 L7.4,819.8 L8.1,819.1 L8.7,818.4 L9.4,817.7 L10.1,817.1 L10.8,816.4 L11.6,815.8 L12.3,815.3 L13.1,814.7 L13.9,814.2 L14.7,813.7 L15.6,813.2 L16.4,812.8 L17.3,812.4 L18.2,812.0 L19.1,811.7 L20.0,811.3 L20.9,811.1 L21.8,810.8 L22.8,810.6 L23.7,810.4 L24.7,810.3 L25.6,810.2 L26.6,810.1 L27.5,810.0 L28.5,810.0 L29.5,810.0 L30.4,810.1 L31.4,810.2 L32.3,810.3 L33.3,810.4 L34.2,810.6 L35.2,810.8 L36.1,811.1 L37.0,811.3 L37.9,811.7 L38.8,812.0 L39.7,812.4 L40.6,812.8 L41.4,813.2 L42.2,813.7 L43.1,814.2 L43.9,814.7 L44.7,815.3 L45.4,815.8 L46.2,816.4 L46.9,817.1 L47.6,817.7 L48.3,818.4 L48.9,819.1 L49.6,819.8 L50.2,820.6 L50.7,821.3 L51.3,822.1 L51.8,822.9 L52.3,823.8 L52.8,824.6 L53.2,825.4 L53.6,826.3 L54.0,827.2 L54.3,828.1 L54.7,829.0 L54.9,829.9 L55.2,830.8 L55.4,831.8 L55.6,832.7 L55.7,833.7 L55.8,834.6 L55.9,835.6 L56.0,836.5 L56.0,837.5 Z M51.0,837.5 L50.8,836.7 L50.6,836.0 L50.4,835.2 L50.2,834.5 L49.9,833.7 L49.6,833.0 L49.3,832.3 L49.0,831.6 L48.7,830.9 L48.3,830.3 L48.0,829.6 L47.6,829.0 L47.2,828.4 L46.8,827.8 L46.3,827.2 L45.9,826.6 L45.4,826.1 L44.9,825.5 L44.5,825.0 L44.0,824.5 L43.5,824.0 L42.9,823.6 L42.4,823.1 L41.9,822.6 L41.3,822.2 L40.8,821.8 L40.2,821.4 L39.6,821.0 L39.0,820.7 L38.4,820.3 L37.8,820.0 L37.2,819.7 L36.6,819.3 L36.0,819.1 L35.3,818.8 L34.7,818.5 L34.0,818.3 L33.3,818.1 L32.7,817.9 L32.0,817.7 L31.3,817.5 L30.6,817.3 L29.9,817.2 L29.2,817.1 L28.5,817.0 L27.8,816.9 L27.1,816.9 L26.3,816.8 L25.6,816.8 L24.9,816.8 L24.1,816.8 L23.4,816.9 L22.6,817.0 L21.9,817.1 L21.1,817.2 L20.3,817.3 L19.6,817.5 L18.8,817.7 L18.1,817.9 L17.3,818.1 L16.6,818.4 L15.8,818.7 L15.1,819.0 L14.3,819.4 L13.6,819.8 L12.9,820.2 L12.2,820.6 L11.5,821.1 L10.8,821.5 L10.1,822.1 L9.4,822.6 L8.8,823.2 L8.1,823.8 L7.5,824.4 L6.9,825.0 L6.3,825.7 L5.8,826.4 L5.2,827.1 L4.7,827.9 L4.2,828.7 L3.8,829.5 L3.4,830.3 L2.9,831.1 L2.6,832.0 L2.2,832.9 L1.9,833.8 L1.6,834.7 L1.4,835.6 L1.2,836.5 L1.0,837.5 L1.0,838.5 L1.1,839.4 L1.2,840.4 L1.3,841.3 L1.4,842.3 L1.6,843.2 L1.8,844.2 L2.1,845.1 L2.3,846.0 L2.7,846.9 L3.0,847.8 L3.4,848.7 L3.8,849.6 L4.2,850.4 L4.7,851.2 L5.2,852.1 L5.7,852.9 L6.3,853.7 L6.8,854.4 L7.4,855.2 L8.1,855.9 L8.7,856.6 L9.4,857.3 L10.1,857.9 L10.8,858.6 L11.6,859.2 L12.3,859.7 L13.1,860.3 L13.9,860.8 L14.8,861.3 L15.6,861.8 L16.4,862.2 L17.3,862.6 L18.2,863.0 L19.1,863.3 L20.0,863.7 L20.9,863.9 L21.8,864.2 L22.8,864.4 L23.7,864.6 L24.7,864.7 L25.6,864.8 L26.6,864.9 L27.5,865.0 L28.5,865.0 L29.5,865.0 L30.4,864.9 L31.4,864.8 L32.3,864.7 L33.3,864.6 L34.2,864.4 L35.2,864.2 L36.1,863.9 L37.0,863.7 L37.9,863.3 L38.8,863.0 L39.7,862.6 L40.6,862.2 L41.4,861.8 L42.2,861.3 L43.1,860.8 L43.8,860.2 L44.5,859.5 L45.1,858.8 L45.8,858.1 L46.3,857.3 L46.9,856.6 L47.4,855.8 L47.9,855.0 L48.4,854.2 L48.8,853.4 L49.2,852.6 L49.6,851.7 L49.9,850.9 L50.2,850.0 L50.5,849.2 L50.7,848.3 L50.9,847.5 L51.1,846.6 L51.2,845.8 L51.3,844.9 L51.4,844.1 L51.5,843.2 L51.5,842.4 L51.5,841.5 L51.4,840.7 L51.4,839.9 L51.3,839.1 L51.1,838.3 L51.0,837.5 Z M48.5,841.0 L48.5,841.7 L48.5,842.4 L48.4,843.1 L48.3,843.8 L48.2,844.5 L48.1,845.2 L47.9,845.8 L47.7,846.5 L47.5,847.2 L47.3,847.8 L47.0,848.5 L46.8,849.1 L46.5,849.8 L46.2,850.4 L45.8,851.0 L45.5,851.6 L45.1,852.2 L44.7,852.8 L44.3,853.3 L43.8,853.9 L43.4,854.4 L42.9,854.9 L42.4,855.4 L41.9,855.9 L41.4,856.3 L40.8,856.8 L40.3,857.2 L39.7,857.6 L39.1,858.0 L38.5,858.3 L37.9,858.7 L37.3,859.0 L36.6,859.3 L36.0,859.5 L35.3,859.8 L34.7,860.0 L34.0,860.2 L33.3,860.4 L32.7,860.6 L32.0,860.7 L31.3,860.8 L30.6,860.9 L29.9,861.0 L29.2,861.0 L28.5,861.0 L27.8,861.0 L27.1,861.0 L26.4,860.9 L25.7,860.8 L25.0,860.7 L24.3,860.6 L23.7,860.4 L23.0,860.2 L22.3,860.0 L21.7,859.8 L21.0,859.5 L20.4,859.3 L19.7,859.0 L19.1,858.7 L18.5,858.3 L17.9,858.0 L17.3,857.6 L16.7,857.2 L16.2,856.8 L15.6,856.3 L15.1,855.9 L14.6,855.4 L14.1,854.9 L13.6,854.4 L13.2,853.9 L12.7,853.3 L12.3,852.8 L11.9,852.2 L11.5,851.6 L11.2,851.0 L10.8,850.4 L10.5,849.8 L10.2,849.1 L10.0,848.5 L9.7,847.8 L9.5,847.2 L9.3,846.5 L9.1,845.8 L8.9,845.2 L8.8,844.5 L8.7,843.8 L8.6,843.1 L8.5,842.4 L8.5,841.7 L8.5,841.0 L8.5,840.3 L8.5,839.6 L8.6,838.9 L8.7,838.2 L8.8,837.5 L8.9,836.8 L9.1,836.2 L9.3,835.5 L9.5,834.8 L9.7,834.2 L10.0,833.5 L10.2,832.9 L10.5,832.2 L10.8,831.6 L11.2,831.0 L11.5,830.4 L11.9,829.8 L12.3,829.2 L12.7,828.7 L13.2,828.1 L13.6,827.6 L14.1,827.1 L14.6,826.6 L15.1,826.1 L15.6,825.7 L16.2,825.2 L16.7,824.8 L17.3,824.4 L17.9,824.0 L18.5,823.7 L19.1,823.3 L19.7,823.0 L20.4,822.7 L21.0,822.5 L21.7,822.2 L22.3,822.0 L23.0,821.8 L23.7,821.6 L24.3,821.4 L25.0,821.3 L25.7,821.2 L26.4,821.1 L27.1,821.0 L27.8,821.0 L28.5,821.0 L29.2,821.0 L29.9,821.0 L30.6,821.1 L31.3,821.2 L32.0,821.3 L32.7,821.4 L33.3,821.6 L34.0,821.8 L34.7,822.0 L35.3,822.2 L36.0,822.5 L36.6,822.7 L37.3,823.0 L37.9,823.3 L38.5,823.7 L39.1,824.0 L39.7,824.4 L40.3,824.8 L40.8,825.2 L41.4,825.7 L41.9,826.1 L42.4,826.6 L42.9,827.1 L43.4,827.6 L43.8,828.1 L44.3,828.7 L44.7,829.2 L45.1,829.8 L45.5,830.4 L45.8,831.0 L46.2,831.6 L46.5,832.2 L46.8,832.9 L47.0,833.5 L47.3,834.2 L47.5,834.8 L47.7,835.5 L47.9,836.2 L48.1,836.8 L48.2,837.5 L48.3,838.2 L48.4,838.9 L48.5,839.6 L48.5,840.3 L48.5,841.0 Z M42.2,841.0 L42.2,840.5 L42.2,840.0 L42.1,839.6 L42.1,839.1 L42.0,838.6 L41.9,838.2 L41.8,837.7 L41.7,837.2 L41.5,836.8 L41.4,836.3 L41.2,835.9 L41.0,835.4 L40.8,835.0 L40.6,834.6 L40.4,834.1 L40.1,833.7 L39.9,833.3 L39.6,832.9 L39.3,832.6 L39.0,832.2 L38.7,831.8 L38.4,831.5 L38.0,831.1 L37.7,830.8 L37.3,830.5 L36.9,830.2 L36.6,829.9 L36.2,829.6 L35.8,829.4 L35.4,829.1 L34.9,828.9 L34.5,828.7 L34.1,828.5 L33.6,828.3 L33.2,828.1 L32.7,828.0 L32.3,827.8 L31.8,827.7 L31.3,827.6 L30.9,827.5 L30.4,827.4 L29.9,827.4 L29.5,827.3 L29.0,827.3 L28.5,827.3 L28.0,827.3 L27.5,827.3 L27.1,827.4 L26.6,827.4 L26.1,827.5 L25.7,827.6 L25.2,827.7 L24.7,827.8 L24.3,828.0 L23.8,828.1 L23.4,828.3 L22.9,828.5 L22.5,828.7 L22.1,828.9 L21.6,829.1 L21.2,829.4 L20.8,829.6 L20.4,829.9 L20.1,830.2 L19.7,830.5 L19.3,830.8 L19.0,831.1 L18.6,831.5 L18.3,831.8 L18.0,832.2 L17.7,832.6 L17.4,832.9 L17.1,833.3 L16.9,833.7 L16.6,834.1 L16.4,834.6 L16.2,835.0 L16.0,835.4 L15.8,835.9 L15.6,836.3 L15.5,836.8 L15.3,837.2 L15.2,837.7 L15.1,838.2 L15.0,838.6 L14.9,839.1 L14.9,839.6 L14.8,840.0 L14.8,840.5 L14.8,841.0 L14.8,841.5 L14.8,842.0 L14.9,842.4 L14.9,842.9 L15.0,843.4 L15.1,843.8 L15.2,844.3 L15.3,844.8 L15.5,845.2 L15.6,845.7 L15.8,846.1 L16.0,846.6 L16.2,847.0 L16.4,847.4 L16.6,847.9 L16.9,848.3 L17.1,848.7 L17.4,849.1 L17.7,849.4 L18.0,849.8 L18.3,850.2 L18.6,850.5 L19.0,850.9 L19.3,851.2 L19.7,851.5 L20.1,851.8 L20.4,852.1 L20.8,852.4 L21.2,852.6 L21.7,852.9 L22.1,853.1 L22.5,853.3 L22.9,853.5 L23.4,853.7 L23.8,853.9 L24.3,854.0 L24.7,854.2 L25.2,854.3 L25.7,854.4 L26.1,854.5 L26.6,854.6 L27.1,854.6 L27.5,854.7 L28.0,854.7 L28.5,854.7 L29.0,854.7 L29.5,854.7 L29.9,854.6 L30.4,854.6 L30.9,854.5 L31.3,854.4 L31.8,854.3 L32.3,854.2 L32.7,854.0 L33.2,853.9 L33.6,853.7 L34.1,853.5 L34.5,853.3 L34.9,853.1 L35.4,852.9 L35.8,852.6 L36.2,852.4 L36.6,852.1 L36.9,851.8 L37.3,851.5 L37.7,851.2 L38.0,850.9 L38.4,850.5 L38.7,850.2 L39.0,849.8 L39.3,849.4 L39.6,849.1 L39.9,848.7 L40.1,848.3 L40.4,847.9 L40.6,847.4 L40.8,847.0 L41.0,846.6 L41.2,846.1 L41.4,845.7 L41.5,845.2 L41.7,844.8 L41.8,844.3 L41.9,843.8 L42.0,843.4 L42.1,842.9 L42.1,842.4 L42.2,842.0 L42.2,841.5 L42.2,841.0 Z M15.8,842 A11.2,11.2 0 1,0 38.2,842 A11.2,11.2 0 1,0 15.8,842 Z"/>
<path clip-path="url(#cr)" fill="#e3191f" d="M57.5,837.0 L57.5,838.0 L57.4,838.9 L57.3,839.9 L57.2,840.8 L57.1,841.8 L56.9,842.7 L56.7,843.7 L56.4,844.6 L56.2,845.5 L55.8,846.4 L55.5,847.3 L55.1,848.2 L54.7,849.1 L54.3,849.9 L53.8,850.8 L53.3,851.6 L52.8,852.4 L52.2,853.2 L51.7,853.9 L51.1,854.7 L50.4,855.4 L49.8,856.1 L49.1,856.8 L48.4,857.4 L47.7,858.1 L46.9,858.7 L46.2,859.2 L45.4,859.8 L44.6,860.3 L43.8,860.8 L42.9,861.3 L42.1,861.7 L41.2,862.1 L40.3,862.5 L39.4,862.8 L38.5,863.2 L37.6,863.4 L36.7,863.7 L35.7,863.9 L34.8,864.1 L33.8,864.2 L32.9,864.3 L31.9,864.4 L31.0,864.5 L30.0,864.5 L29.0,864.5 L28.1,864.4 L27.1,864.3 L26.2,864.2 L25.2,864.1 L24.3,863.9 L23.3,863.7 L22.4,863.4 L21.5,863.2 L20.6,862.8 L19.7,862.5 L18.8,862.1 L17.9,861.7 L17.1,861.3 L16.3,860.8 L15.4,860.3 L14.6,859.8 L13.8,859.2 L13.1,858.7 L12.3,858.1 L11.6,857.4 L10.9,856.8 L10.2,856.1 L9.6,855.4 L8.9,854.7 L8.3,853.9 L7.8,853.2 L7.2,852.4 L6.7,851.6 L6.2,850.8 L5.7,849.9 L5.3,849.1 L4.9,848.2 L4.5,847.3 L4.2,846.4 L3.8,845.5 L3.6,844.6 L3.3,843.7 L3.1,842.7 L2.9,841.8 L2.8,840.8 L2.7,839.9 L2.6,838.9 L2.5,838.0 L2.5,837.0 L2.5,836.0 L2.6,835.1 L2.7,834.1 L2.8,833.2 L2.9,832.2 L3.1,831.3 L3.3,830.3 L3.6,829.4 L3.8,828.5 L4.2,827.6 L4.5,826.7 L4.9,825.8 L5.3,824.9 L5.7,824.1 L6.2,823.2 L6.7,822.4 L7.2,821.6 L7.8,820.8 L8.3,820.1 L8.9,819.3 L9.6,818.6 L10.2,817.9 L10.9,817.2 L11.6,816.6 L12.3,815.9 L13.1,815.3 L13.8,814.8 L14.6,814.2 L15.4,813.7 L16.2,813.2 L17.1,812.7 L17.9,812.3 L18.8,811.9 L19.7,811.5 L20.6,811.2 L21.5,810.8 L22.4,810.6 L23.3,810.3 L24.3,810.1 L25.2,809.9 L26.2,809.8 L27.1,809.7 L28.1,809.6 L29.0,809.5 L30.0,809.5 L31.0,809.5 L31.9,809.6 L32.9,809.7 L33.8,809.8 L34.8,809.9 L35.7,810.1 L36.7,810.3 L37.6,810.6 L38.5,810.8 L39.4,811.2 L40.3,811.5 L41.2,811.9 L42.1,812.3 L42.9,812.7 L43.8,813.2 L44.6,813.7 L45.4,814.2 L46.2,814.8 L46.9,815.3 L47.7,815.9 L48.4,816.6 L49.1,817.2 L49.8,817.9 L50.4,818.6 L51.1,819.3 L51.7,820.1 L52.2,820.8 L52.8,821.6 L53.3,822.4 L53.8,823.2 L54.3,824.1 L54.7,824.9 L55.1,825.8 L55.5,826.7 L55.8,827.6 L56.2,828.5 L56.4,829.4 L56.7,830.3 L56.9,831.3 L57.1,832.2 L57.2,833.2 L57.3,834.1 L57.4,835.1 L57.5,836.0 L57.5,837.0 Z M57.5,837.0 L57.5,836.0 L57.4,835.1 L57.3,834.1 L57.2,833.2 L57.1,832.2 L56.9,831.3 L56.7,830.3 L56.4,829.4 L56.2,828.5 L55.8,827.6 L55.5,826.7 L55.1,825.8 L54.7,824.9 L54.3,824.1 L53.8,823.2 L53.3,822.4 L52.8,821.6 L52.2,820.8 L51.7,820.1 L51.1,819.3 L50.4,818.6 L49.8,817.9 L49.1,817.2 L48.4,816.6 L47.7,815.9 L46.9,815.3 L46.2,814.8 L45.4,814.2 L44.6,813.7 L43.8,813.2 L42.9,812.7 L42.1,812.3 L41.2,811.9 L40.3,811.5 L39.4,811.2 L38.5,810.8 L37.6,810.6 L36.7,810.3 L35.7,810.1 L34.8,809.9 L33.8,809.8 L32.9,809.7 L31.9,809.6 L31.0,809.5 L30.0,809.5 L29.0,809.5 L28.1,809.6 L27.1,809.7 L26.2,809.8 L25.2,809.9 L24.3,810.1 L23.3,810.3 L22.4,810.6 L21.5,810.8 L20.6,811.2 L19.7,811.5 L18.8,811.9 L17.9,812.3 L17.2,812.8 L16.4,813.5 L15.7,814.2 L15.1,814.9 L14.5,815.6 L13.9,816.4 L13.3,817.2 L12.8,817.9 L12.4,818.7 L11.9,819.5 L11.5,820.4 L11.1,821.2 L10.8,822.0 L10.5,822.8 L10.3,823.7 L10.0,824.5 L9.8,825.4 L9.7,826.2 L9.5,827.0 L9.5,827.9 L9.4,828.7 L9.4,829.5 L9.4,830.3 L9.4,831.1 L9.4,831.9 L9.5,832.6 L9.6,833.4 L9.8,834.2 L9.9,834.9 L10.1,835.6 L10.3,836.3 L10.5,837.0 L10.7,837.7 L11.0,838.3 L11.3,839.0 L11.5,839.6 L11.8,840.2 L12.2,840.8 L12.5,841.4 L12.8,841.9 L13.2,842.5 L13.5,843.0 L13.9,843.5 L14.3,844.0 L14.7,844.5 L15.1,844.9 L15.5,845.4 L15.9,845.8 L16.3,846.3 L16.7,846.7 L17.1,847.1 L17.5,847.5 L18.0,847.8 L18.4,848.2 L18.9,848.5 L19.3,848.9 L19.7,849.2 L20.2,849.5 L20.7,849.9 L21.1,850.2 L21.6,850.5 L22.1,850.7 L22.5,851.0 L23.0,851.3 L23.5,851.6 L24.0,851.8 L24.5,852.1 L25.0,852.3 L25.5,852.5 L26.1,852.7 L26.6,853.0 L27.2,853.2 L27.7,853.3 L28.3,853.5 L28.8,853.7 L29.4,853.9 L30.0,854.0 L30.6,854.1 L31.2,854.3 L31.8,854.4 L32.5,854.4 L33.1,854.5 L33.7,854.6 L34.4,854.6 L35.1,854.6 L35.7,854.6 L36.4,854.6 L37.1,854.6 L37.8,854.5 L38.5,854.4 L39.2,854.3 L39.9,854.2 L40.7,854.1 L41.4,853.9 L42.1,853.7 L42.8,853.4 L43.6,853.2 L44.3,852.9 L45.0,852.5 L45.7,852.2 L46.4,851.8 L47.1,851.4 L47.8,850.9 L48.5,850.5 L49.2,850.0 L49.9,849.4 L50.5,848.9 L51.2,848.3 L51.8,847.6 L52.4,847.0 L53.0,846.3 L53.5,845.6 L54.1,844.8 L54.6,844.0 L55.0,843.2 L55.5,842.4 L55.9,841.6 L56.3,840.7 L56.7,839.8 L57.0,838.9 L57.3,838.0 L57.5,837.0 Z M50.5,833.0 L50.5,833.6 L50.5,834.3 L50.4,834.9 L50.3,835.6 L50.2,836.2 L50.1,836.8 L50.0,837.5 L49.8,838.1 L49.6,838.7 L49.4,839.3 L49.2,839.9 L48.9,840.5 L48.6,841.1 L48.3,841.7 L48.0,842.2 L47.7,842.8 L47.3,843.3 L47.0,843.9 L46.6,844.4 L46.2,844.9 L45.7,845.4 L45.3,845.9 L44.9,846.3 L44.4,846.7 L43.9,847.2 L43.4,847.6 L42.9,848.0 L42.3,848.3 L41.8,848.7 L41.2,849.0 L40.7,849.3 L40.1,849.6 L39.5,849.9 L38.9,850.2 L38.3,850.4 L37.7,850.6 L37.1,850.8 L36.5,851.0 L35.8,851.1 L35.2,851.2 L34.6,851.3 L33.9,851.4 L33.3,851.5 L32.6,851.5 L32.0,851.5 L31.4,851.5 L30.7,851.5 L30.1,851.4 L29.4,851.3 L28.8,851.2 L28.2,851.1 L27.5,851.0 L26.9,850.8 L26.3,850.6 L25.7,850.4 L25.1,850.2 L24.5,849.9 L23.9,849.6 L23.3,849.3 L22.8,849.0 L22.2,848.7 L21.7,848.3 L21.1,848.0 L20.6,847.6 L20.1,847.2 L19.6,846.7 L19.1,846.3 L18.7,845.9 L18.3,845.4 L17.8,844.9 L17.4,844.4 L17.0,843.9 L16.7,843.3 L16.3,842.8 L16.0,842.2 L15.7,841.7 L15.4,841.1 L15.1,840.5 L14.8,839.9 L14.6,839.3 L14.4,838.7 L14.2,838.1 L14.0,837.5 L13.9,836.8 L13.8,836.2 L13.7,835.6 L13.6,834.9 L13.5,834.3 L13.5,833.6 L13.5,833.0 L13.5,832.4 L13.5,831.7 L13.6,831.1 L13.7,830.4 L13.8,829.8 L13.9,829.2 L14.0,828.5 L14.2,827.9 L14.4,827.3 L14.6,826.7 L14.8,826.1 L15.1,825.5 L15.4,824.9 L15.7,824.3 L16.0,823.8 L16.3,823.2 L16.7,822.7 L17.0,822.1 L17.4,821.6 L17.8,821.1 L18.3,820.6 L18.7,820.1 L19.1,819.7 L19.6,819.3 L20.1,818.8 L20.6,818.4 L21.1,818.0 L21.7,817.7 L22.2,817.3 L22.7,817.0 L23.3,816.7 L23.9,816.4 L24.5,816.1 L25.1,815.8 L25.7,815.6 L26.3,815.4 L26.9,815.2 L27.5,815.0 L28.2,814.9 L28.8,814.8 L29.4,814.7 L30.1,814.6 L30.7,814.5 L31.4,814.5 L32.0,814.5 L32.6,814.5 L33.3,814.5 L33.9,814.6 L34.6,814.7 L35.2,814.8 L35.8,814.9 L36.5,815.0 L37.1,815.2 L37.7,815.4 L38.3,815.6 L38.9,815.8 L39.5,816.1 L40.1,816.4 L40.7,816.7 L41.2,817.0 L41.8,817.3 L42.3,817.7 L42.9,818.0 L43.4,818.4 L43.9,818.8 L44.4,819.3 L44.9,819.7 L45.3,820.1 L45.7,820.6 L46.2,821.1 L46.6,821.6 L47.0,822.1 L47.3,822.7 L47.7,823.2 L48.0,823.8 L48.3,824.3 L48.6,824.9 L48.9,825.5 L49.2,826.1 L49.4,826.7 L49.6,827.3 L49.8,827.9 L50.0,828.5 L50.1,829.2 L50.2,829.8 L50.3,830.4 L50.4,831.1 L50.5,831.7 L50.5,832.4 L50.5,833.0 Z M44.2,833.0 L44.2,832.6 L44.2,832.1 L44.1,831.7 L44.1,831.3 L44.0,830.9 L43.9,830.5 L43.8,830.0 L43.7,829.6 L43.6,829.2 L43.5,828.8 L43.3,828.4 L43.1,828.0 L43.0,827.7 L42.8,827.3 L42.6,826.9 L42.3,826.5 L42.1,826.2 L41.9,825.8 L41.6,825.5 L41.3,825.2 L41.1,824.8 L40.8,824.5 L40.5,824.2 L40.2,823.9 L39.8,823.7 L39.5,823.4 L39.2,823.1 L38.8,822.9 L38.5,822.7 L38.1,822.4 L37.7,822.2 L37.3,822.0 L37.0,821.9 L36.6,821.7 L36.2,821.5 L35.8,821.4 L35.4,821.3 L35.0,821.2 L34.5,821.1 L34.1,821.0 L33.7,820.9 L33.3,820.9 L32.9,820.8 L32.4,820.8 L32.0,820.8 L31.6,820.8 L31.1,820.8 L30.7,820.9 L30.3,820.9 L29.9,821.0 L29.5,821.1 L29.0,821.2 L28.6,821.3 L28.2,821.4 L27.8,821.5 L27.4,821.7 L27.0,821.9 L26.7,822.0 L26.3,822.2 L25.9,822.4 L25.5,822.7 L25.2,822.9 L24.8,823.1 L24.5,823.4 L24.2,823.7 L23.8,823.9 L23.5,824.2 L23.2,824.5 L22.9,824.8 L22.7,825.2 L22.4,825.5 L22.1,825.8 L21.9,826.2 L21.7,826.5 L21.4,826.9 L21.2,827.3 L21.0,827.7 L20.9,828.0 L20.7,828.4 L20.5,828.8 L20.4,829.2 L20.3,829.6 L20.2,830.0 L20.1,830.5 L20.0,830.9 L19.9,831.3 L19.9,831.7 L19.8,832.1 L19.8,832.6 L19.8,833.0 L19.8,833.4 L19.8,833.9 L19.9,834.3 L19.9,834.7 L20.0,835.1 L20.1,835.5 L20.2,836.0 L20.3,836.4 L20.4,836.8 L20.5,837.2 L20.7,837.6 L20.9,838.0 L21.0,838.3 L21.2,838.7 L21.4,839.1 L21.7,839.5 L21.9,839.8 L22.1,840.2 L22.4,840.5 L22.7,840.8 L22.9,841.2 L23.2,841.5 L23.5,841.8 L23.8,842.1 L24.2,842.3 L24.5,842.6 L24.8,842.9 L25.2,843.1 L25.5,843.3 L25.9,843.6 L26.3,843.8 L26.7,844.0 L27.0,844.1 L27.4,844.3 L27.8,844.5 L28.2,844.6 L28.6,844.7 L29.0,844.8 L29.5,844.9 L29.9,845.0 L30.3,845.1 L30.7,845.1 L31.1,845.2 L31.6,845.2 L32.0,845.2 L32.4,845.2 L32.9,845.2 L33.3,845.1 L33.7,845.1 L34.1,845.0 L34.5,844.9 L35.0,844.8 L35.4,844.7 L35.8,844.6 L36.2,844.5 L36.6,844.3 L37.0,844.1 L37.3,844.0 L37.7,843.8 L38.1,843.6 L38.5,843.3 L38.8,843.1 L39.2,842.9 L39.5,842.6 L39.8,842.3 L40.2,842.1 L40.5,841.8 L40.8,841.5 L41.1,841.2 L41.3,840.8 L41.6,840.5 L41.9,840.2 L42.1,839.8 L42.3,839.5 L42.6,839.1 L42.8,838.7 L43.0,838.3 L43.1,838.0 L43.3,837.6 L43.5,837.2 L43.6,836.8 L43.7,836.4 L43.8,836.0 L43.9,835.5 L44.0,835.1 L44.1,834.7 L44.1,834.3 L44.2,833.9 L44.2,833.4 L44.2,833.0 Z M24.5,836 A8.5,8.5 0 1,0 41.5,836 A8.5,8.5 0 1,0 24.5,836 Z"/>
</g>

</svg>
</body></html>
